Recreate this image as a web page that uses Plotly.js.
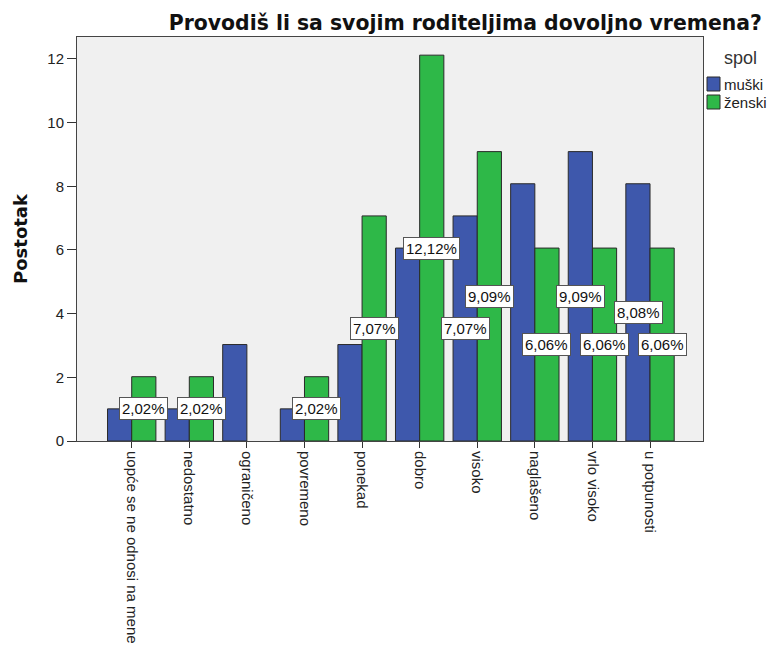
<!DOCTYPE html>
<html>
<head>
<meta charset="utf-8">
<script src="https://cdn.plot.ly/plotly-3.0.1.min.js"></script>
<style>html,body{margin:0;padding:0;background:#fff;}#chart{width:773px;height:646px;}</style>
</head>
<body>
<div id="chart"></div>
<script>
var categories = ["uopće se ne odnosi na mene", "nedostatno", "ograničeno", "povremeno", "ponekad", "dobro", "visoko", "naglašeno", "vrlo visoko", "u potpunosti"];
var seriesNames = ["muški", "ženski"];
var muskiValues = [1.01, 1.01, 3.03, 1.01, 3.03, 6.06, 7.07, 8.08, 9.09, 8.08];
var zenskiValues = [2.02, 2.02, null, 2.02, 7.07, 12.12, 9.09, 6.06, 6.06, 6.06];
var muskiLabels = ["", "", "", "", "", "", "7,07%", "", "9,09%", "8,08%"];
var zenskiLabels = ["2,02%", "2,02%", "", "2,02%", "7,07%", "12,12%", "9,09%", "6,06%", "6,06%", "6,06%"];
var yTickVals = [0, 2, 4, 6, 8, 10, 12];
var seriesColors = ["#3E58AC", "#2EB848"];

var FONT = "Liberation Sans, Arial, sans-serif";
var BOLDFONT = "DejaVu Sans, Liberation Sans, Arial, sans-serif";

var traces = [
  {type: "bar", name: seriesNames[0], x: categories, y: muskiValues,
   marker: {color: seriesColors[0], line: {color: "#2a2a2a", width: 1}}, hoverinfo: "none"},
  {type: "bar", name: seriesNames[1], x: categories, y: zenskiValues,
   marker: {color: seriesColors[1], line: {color: "#2a2a2a", width: 1}}, hoverinfo: "none"}
];

var annotations = [];
function addLabels(values, labels, shift) {
  for (var i = 0; i < categories.length; i++) {
    if (labels[i] && values[i] != null) {
      annotations.push({
        x: categories[i], y: values[i] / 2, xref: "x", yref: "y",
        xshift: shift, text: labels[i], showarrow: false,
        font: {family: FONT, size: 15, color: "#111"},
        bgcolor: "#ffffff", bordercolor: "#555", borderwidth: 1, borderpad: 2,
        xanchor: "center", yanchor: "middle"
      });
    }
  }
}
addLabels(muskiValues, muskiLabels, -12);
addLabels(zenskiValues, zenskiLabels, 12);

// custom legend (pixel helpers for the paper area)
var L = 77, R = 703, T = 37, B = 441;
function px(x) { return (x - L) / (R - L); }
function py(y) { return (B - y) / (B - T); }
var shapes = [];
annotations.push({xref: "paper", yref: "paper", x: px(740), y: py(58), text: "spol",
  showarrow: false, xanchor: "center", yanchor: "middle",
  font: {family: FONT, size: 18, color: "#333"}});
var legendRows = [84, 102];
for (var k = 0; k < seriesNames.length; k++) {
  shapes.push({type: "rect", xref: "paper", yref: "paper",
    x0: px(707), x1: px(720), y0: py(legendRows[k] - 7), y1: py(legendRows[k] + 7),
    fillcolor: seriesColors[k], line: {color: "#2a2a2a", width: 1}});
  annotations.push({xref: "paper", yref: "paper", x: px(722), y: py(legendRows[k]),
    text: seriesNames[k], showarrow: false, xanchor: "left", yanchor: "middle",
    font: {family: FONT, size: 15, color: "#222"}});
}

var layout = {
  width: 773, height: 646,
  paper_bgcolor: "#ffffff", plot_bgcolor: "#f0f0f0",
  margin: {l: L, r: 773 - R, t: T, b: 646 - B, autoexpand: false},
  font: {family: FONT, color: "#222"},
  title: {text: "<b>Provodiš li sa svojim roditeljima dovoljno vremena?</b>",
          font: {family: BOLDFONT, size: 20.4, color: "#111"}, xref: "container", x: 0.602, xanchor: "center",
          yref: "container", y: 0.9644, yanchor: "middle"},
  barmode: "group", bargap: 0.16, bargroupgap: 0,
  xaxis: {type: "category", range: [-0.95, 9.92], showline: true, mirror: true,
          linecolor: "#444", linewidth: 1, ticks: "outside", ticklen: 6, tickcolor: "#333",
          tickangle: 90, tickfont: {size: 15, color: "#222"}, showgrid: false, zeroline: false},
  yaxis: {range: [0, 12.69], tickvals: yTickVals, showline: true, mirror: true,
          linecolor: "#444", linewidth: 1, ticks: "outside", ticklen: 9, tickcolor: "#333",
          tickfont: {size: 15, color: "#222"}, showgrid: false, zeroline: false,
          title: {text: "<b>Postotak</b>", font: {family: BOLDFONT, size: 18, color: "#111"}, standoff: 15}},
  showlegend: false,
  annotations: annotations,
  shapes: shapes
};

Plotly.newPlot("chart", traces, layout, {staticPlot: true});
</script>
</body>
</html>
